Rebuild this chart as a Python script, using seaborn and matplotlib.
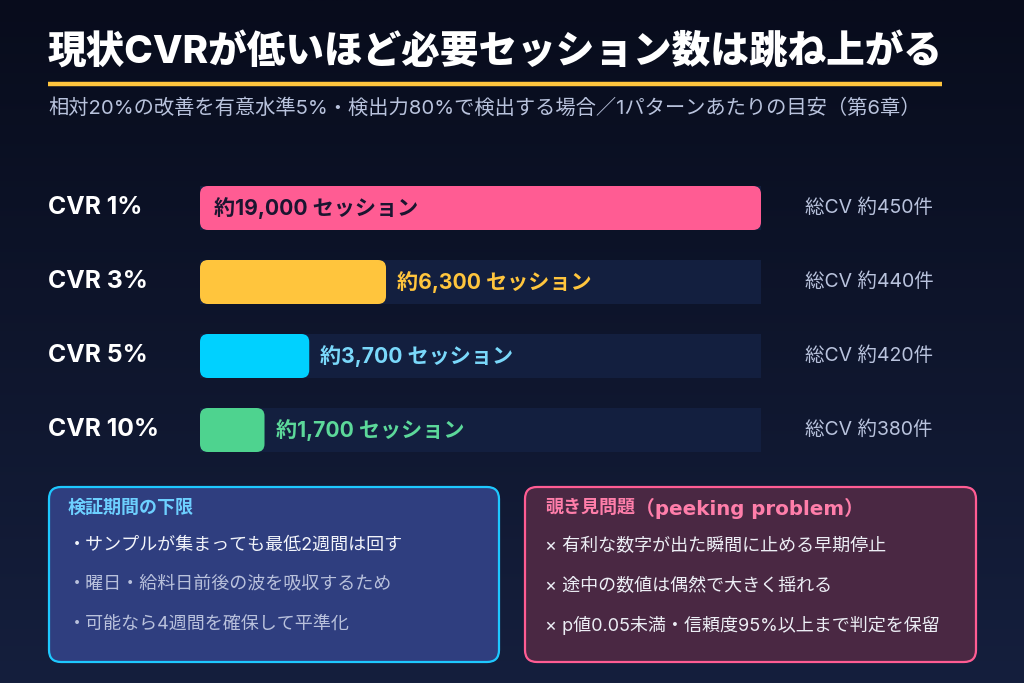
import numpy as np
import pandas as pd
import matplotlib
matplotlib.use("Agg")
import matplotlib.pyplot as plt
import matplotlib.transforms as mtransforms
from matplotlib.patches import FancyBboxPatch
import seaborn as sns

# ---------------- data ----------------
cvr_labels = ["CVR 1%", "CVR 3%", "CVR 5%", "CVR 10%"]
sessions = [19000, 6300, 3700, 1700]
total_cv = [450, 440, 420, 380]
bar_colors = ["#FF5C93", "#FFC53D", "#00D1FF", "#4ED38F"]
label_colors = ["#1B1530", "#FFC53D", "#7AD8FA", "#5CD89A"]

title = "現状CVRが低いほど必要セッション数は跳ね上がる"
subtitle = "相対20%の改善を有意水準5%・検出力80%で検出する場合／1パターンあたりの目安（第6章）"

left_box_title = "検証期間の下限"
left_box_items = ["・サンプルが集まっても最低2週間は回す",
                  "・曜日・給料日前後の波を吸収するため",
                  "・可能なら4週間を確保して平準化"]
right_box_title_jp = "覗き見問題"
right_box_title_en = "（peeking problem）"
right_box_items = ["× 有利な数字が出た瞬間に止める早期停止",
                   "× 途中の数値は偶然で大きく揺れる",
                   "× p値0.05未満・信頼度95%以上まで判定を保留"]

# ---------------- style ----------------
sns.set_theme(style="dark")
FAM = ["Inter", "Noto Sans CJK JP", "DejaVu Sans"]
plt.rcParams["font.family"] = FAM

W, H = 1024, 683
fig = plt.figure(figsize=(W / 100, H / 100), dpi=100)

# background axes
bg = fig.add_axes([0, 0, 1, 1], zorder=0)
bg.set_xlim(0, W); bg.set_ylim(H, 0); bg.axis("off")
top = np.array([0x08, 0x0C, 0x1C]) / 255
bot = np.array([0x15, 0x1F, 0x3D]) / 255
t = np.linspace(0, 1, 256)[:, None]
grad = (top[None, :] * (1 - t) + bot[None, :] * t)[:, None, :]
grad = np.repeat(grad, 2, axis=1)
bg.imshow(grad, extent=[0, W, H, 0], aspect="auto")

# ---------------- bars ----------------
df = pd.DataFrame({"cvr": cvr_labels, "sessions": sessions})
vmax = max(sessions)
MIN_FRAC = 0.115
df["shown"] = [max(v, vmax * MIN_FRAC) for v in sessions]
df["track"] = vmax

row_h = 74
y0 = 171
ax = fig.add_axes([200 / W, 1 - (y0 + row_h * 4) / H, 561 / W, row_h * 4 / H], zorder=1)
ax.set_facecolor("none")
sns.barplot(data=df, x="track", y="cvr", orient="h", color="#131F3F",
            width=44 / row_h, ax=ax, saturation=1, edgecolor="none", linewidth=0)
n_track = len(ax.patches)
sns.barplot(data=df, x="shown", y="cvr", orient="h", hue="cvr",
            palette=bar_colors, width=44 / row_h, ax=ax, saturation=1,
            legend=False, edgecolor="none", linewidth=0)
ax.set_xlim(0, vmax)
ax.set_ylim(3.5, -0.5)
ax.axis("off")

# overlay axes in pixel coordinates
ov = fig.add_axes([0, 0, 1, 1], zorder=2)
ov.set_facecolor("none")
ov.set_xlim(0, W); ov.set_ylim(H, 0); ov.axis("off")

# title
ov.text(48, 52, title, color="white", fontsize=27.8, fontweight="heavy",
        va="center", ha="left")
ov.plot([48, 942], [84, 84], color="#FFC53D", lw=3.2, solid_capstyle="butt")
ov.text(48, 108, subtitle, color="#B9C3DD", fontsize=14.6, va="center", ha="left")

# rounded value bars (pixel coords), replacing seaborn rectangles
to_px = ax.transData + ov.transData.inverted()
for p, col in zip(ax.patches[n_track:], bar_colors):
    x0, yb = p.get_x(), p.get_y()
    px0, py0 = to_px.transform((x0, yb))
    px1, py1 = to_px.transform((x0 + p.get_width(), yb + p.get_height()))
    xa, xb = sorted([px0, px1]); ya, yb2 = sorted([py0, py1])
    p.set_visible(False)
    ov.add_patch(FancyBboxPatch((xa, ya), xb - xa, yb2 - ya,
                                boxstyle="round,pad=0,rounding_size=8",
                                fc=col, ec="none", zorder=3))

trans = mtransforms.blended_transform_factory(ov.transData, ax.transData)
for i, (lab, v, s, cv, lc) in enumerate(zip(cvr_labels, sessions, df["shown"], total_cv, label_colors)):
    kw = dict(transform=trans, va="center", ha="left", zorder=6)
    ov.text(48, i, lab, color="white", fontsize=17.8, fontweight="bold", **kw)
    end_px = to_px.transform((s, i))[0]
    txt = f"約{v:,} セッション"
    xpos = 214 if v / vmax > 0.5 else end_px + 11
    ov.text(xpos, i, txt, color=lc, fontsize=15.2, fontweight="bold", **kw)
    ov.text(805, i, f"総CV 約{cv}件", color="#B9C3DD", fontsize=14, **kw)

# ---------------- boxes ----------------
def box(x0, y0, x1, y1, fc, ec):
    ov.add_patch(FancyBboxPatch((x0, y0), x1 - x0, y1 - y0,
                                boxstyle="round,pad=0,rounding_size=12",
                                fc=fc, ec=ec, lw=1.6, zorder=4))

box(49, 487, 499, 662, "#2F3E7F", "#1EC8FF")
box(525, 487, 976, 662, "#4A2843", "#FF5C93")

ov.text(68, 508, left_box_title, color="#6DD0FF", fontsize=13, fontweight="bold",
        va="center", ha="left", zorder=6)
for k, (item, yy) in enumerate(zip(left_box_items, [545, 584, 624])):
    ov.text(68, yy, item, color="#F2F4FA" if k == 0 else "#B9C1DC", fontsize=13,
            va="center", ha="left", zorder=6)

tj = ov.text(545, 508, right_box_title_jp, color="#FF7EAA", fontsize=13, fontweight="bold",
             va="center", ha="left", zorder=6)
renderer = fig.canvas.get_renderer()
bb = tj.get_window_extent(renderer=renderer)
x_end = ov.transData.inverted().transform((bb.x1, bb.y0))[0]
ov.text(x_end, 508, right_box_title_en, color="#FF7EAA", fontsize=14.3, fontweight="bold",
        family=["DejaVu Sans", "Noto Sans CJK JP"], va="center", ha="left", zorder=6)
for item, yy in zip(right_box_items, [546, 586, 625]):
    ov.text(545, yy, item, color="#ECEEF5", fontsize=13, va="center", ha="left", zorder=6)

fig.savefig("out.png", dpi=100)
